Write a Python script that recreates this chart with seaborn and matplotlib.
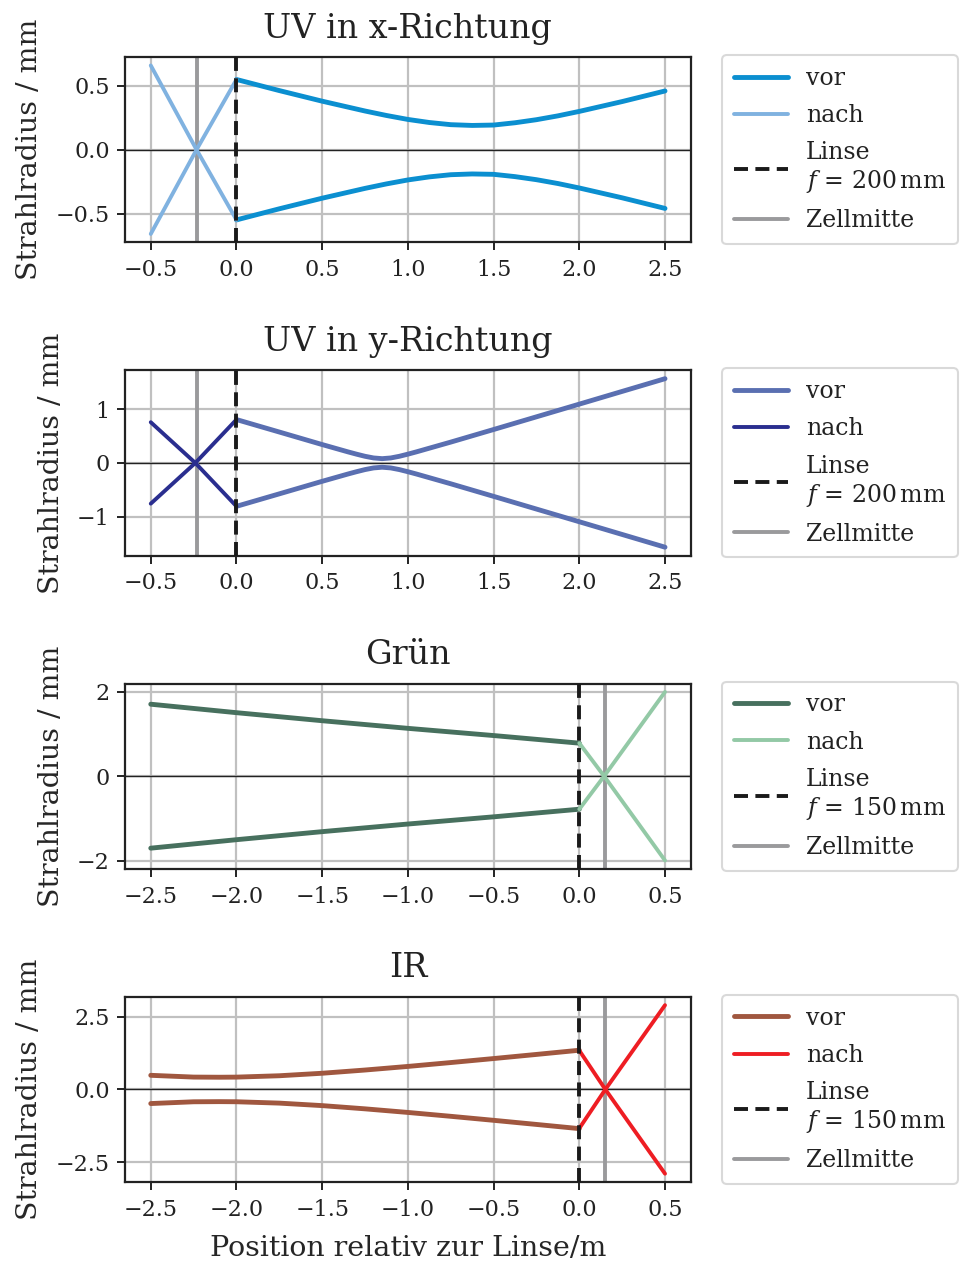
import numpy as np
import matplotlib
matplotlib.use("Agg")
import matplotlib.pyplot as plt
import seaborn as sns

# UV in x-Richtung
uvx_vor_x = [0.0, 0.25, 0.5, 0.75, 0.875, 1.0, 1.125, 1.25, 1.375, 1.5, 1.625, 1.75, 1.875, 2.0, 2.25, 2.5]
uvx_vor_y = [0.550, 0.463, 0.380, 0.303, 0.268, 0.237, 0.213, 0.196, 0.190, 0.193, 0.211, 0.235, 0.265, 0.300, 0.377, 0.460]
uvx_nach_x = [-0.5, -0.233, 0.0]
uvx_nach_y = [0.66, 0.0, -0.55]

# UV in y-Richtung
uvy_vor_x = [0.0, 0.25, 0.5, 0.65, 0.7, 0.75, 0.8, 0.85, 0.9, 0.95, 1.0, 1.05, 1.25, 1.5, 2.0, 2.5]
uvy_vor_y = [0.81, 0.577, 0.343, 0.207, 0.164, 0.124, 0.093, 0.080, 0.093, 0.124, 0.164, 0.207, 0.389, 0.624, 1.098, 1.573]
uvy_nach_x = [-0.5, -0.24, 0.0]
uvy_nach_y = [0.76, 0.0, -0.81]

# Grün
gr_vor_x = [-2.5, -2.0, -1.5, -1.0, -0.5, 0.0]
gr_vor_y = [1.70, 1.50, 1.31, 1.13, 0.96, 0.78]
gr_nach_x = [0.0, 0.145, 0.5]
gr_nach_y = [0.78, 0.0, -1.99]

# IR
ir_vor_x = [-2.5, -2.25, -2.1, -2.0, -1.75, -1.5, -1.25, -1.0, -0.75, -0.5, -0.25, 0.0]
ir_vor_y = [0.486, 0.425, 0.420, 0.424, 0.471, 0.557, 0.668, 0.792, 0.925, 1.063, 1.205, 1.349]
ir_nach_x = [0.0, 0.152, 0.5]
ir_nach_y = [1.34, 0.0, -2.90]

panels = [
    dict(title="UV in x-Richtung", vx=uvx_vor_x, vy=uvx_vor_y, nx=uvx_nach_x, ny=uvx_nach_y,
         c_vor="#0b8fd0", c_nach="#80b2e0", f=200, zelle=-0.233,
         xticks=[-0.5, 0.0, 0.5, 1.0, 1.5, 2.0, 2.5], yticks=[-0.5, 0.0, 0.5], yfmt="{:.1f}"),
    dict(title="UV in y-Richtung", vx=uvy_vor_x, vy=uvy_vor_y, nx=uvy_nach_x, ny=uvy_nach_y,
         c_vor="#5a6fb1", c_nach="#2a2e8f", f=200, zelle=-0.233,
         xticks=[-0.5, 0.0, 0.5, 1.0, 1.5, 2.0, 2.5], yticks=[-1, 0, 1], yfmt="{:.0f}"),
    dict(title="Grün", vx=gr_vor_x, vy=gr_vor_y, nx=gr_nach_x, ny=gr_nach_y,
         c_vor="#47705e", c_nach="#93c9a6", f=150, zelle=0.15,
         xticks=[-2.5, -2.0, -1.5, -1.0, -0.5, 0.0, 0.5], yticks=[-2, 0, 2], yfmt="{:.0f}"),
    dict(title="IR", vx=ir_vor_x, vy=ir_vor_y, nx=ir_nach_x, ny=ir_nach_y,
         c_vor="#a0573f", c_nach="#ee1d23", f=150, zelle=0.15,
         xticks=[-2.5, -2.0, -1.5, -1.0, -0.5, 0.0, 0.5], yticks=[-2.5, 0.0, 2.5], yfmt="{:.1f}"),
]

sns.set_theme(style="ticks")
plt.rcParams["font.family"] = ["DejaVu Serif"]
plt.rcParams["mathtext.fontset"] = "dejavuserif"
plt.rcParams["axes.edgecolor"] = "#222222"
plt.rcParams["axes.linewidth"] = 1.6
plt.rcParams["xtick.major.width"] = 1.4
plt.rcParams["ytick.major.width"] = 1.4
plt.rcParams["xtick.major.size"] = 6
plt.rcParams["ytick.major.size"] = 6
plt.rcParams["xtick.major.pad"] = 6
plt.rcParams["ytick.major.pad"] = 5
plt.rcParams["xtick.color"] = "#222222"
plt.rcParams["ytick.color"] = "#222222"
plt.rcParams["text.color"] = "#222222"

fig, axes = plt.subplots(4, 1, figsize=(9.62, 12.67), dpi=100)
fig.subplots_adjust(left=0.130, right=0.718, top=0.955, bottom=0.067, hspace=0.69)

for ax, p in zip(axes, panels):
    vx = np.array(p["vx"])
    vy = np.array(p["vy"])
    nx = np.array(p["nx"])
    ny = np.array(p["ny"])
    ax.grid(True, color="#c0c0c0", linewidth=1.6, zorder=0)
    ax.set_axisbelow(True)
    sns.lineplot(x=vx, y=vy, ax=ax, color=p["c_vor"], linewidth=3.5, label="vor",
                 estimator=None, sort=False, zorder=2.5)
    sns.lineplot(x=vx, y=-vy, ax=ax, color=p["c_vor"], linewidth=3.5,
                 estimator=None, sort=False, zorder=2.5)
    sns.lineplot(x=nx, y=ny, ax=ax, color=p["c_nach"], linewidth=2.8, label="nach",
                 estimator=None, sort=False, zorder=2.5)
    sns.lineplot(x=nx, y=-ny, ax=ax, color=p["c_nach"], linewidth=2.8,
                 estimator=None, sort=False, zorder=2.5)
    ax.axvline(0.0, color="#1a1a1a", linewidth=2.8, linestyle=(0, (3.6, 1.9)), zorder=3,
               label="Linse\n$f$ = %d$\\,$mm" % p["f"])
    ax.axvline(p["zelle"], color="#9a9a9c", linewidth=2.8, zorder=2,
               label="Zellmitte")
    ax.axhline(0.0, color="#222222", linewidth=1.0, zorder=1.5)

    ax.set_xticks(p["xticks"])
    ax.set_yticks(p["yticks"])
    ax.set_yticklabels([p["yfmt"].format(v).replace("-", "\u2212") for v in p["yticks"]])
    ax.set_xticklabels([("%.1f" % v).replace("-", "\u2212") for v in p["xticks"]])
    ax.tick_params(labelsize=16)
    ax.set_title(p["title"], fontsize=24, pad=14)
    ax.set_ylabel("Strahlradius / mm", fontsize=20.5, labelpad=9)
    ax.set_xlabel("")
    for s in ax.spines.values():
        s.set_visible(True)

    leg = ax.legend(loc="center left", bbox_to_anchor=(1.055, 0.5), borderaxespad=0,
                    fontsize=17, frameon=True, fancybox=True, handlelength=2.3,
                    handletextpad=0.75, labelspacing=0.6, borderpad=0.5)
    leg.get_frame().set_edgecolor("#d0d0d0")
    leg.get_frame().set_linewidth(1.5)

axes[-1].set_xlabel("Position relativ zur Linse/m", fontsize=20.5, labelpad=10)

fig.savefig("out.png", dpi=100)
